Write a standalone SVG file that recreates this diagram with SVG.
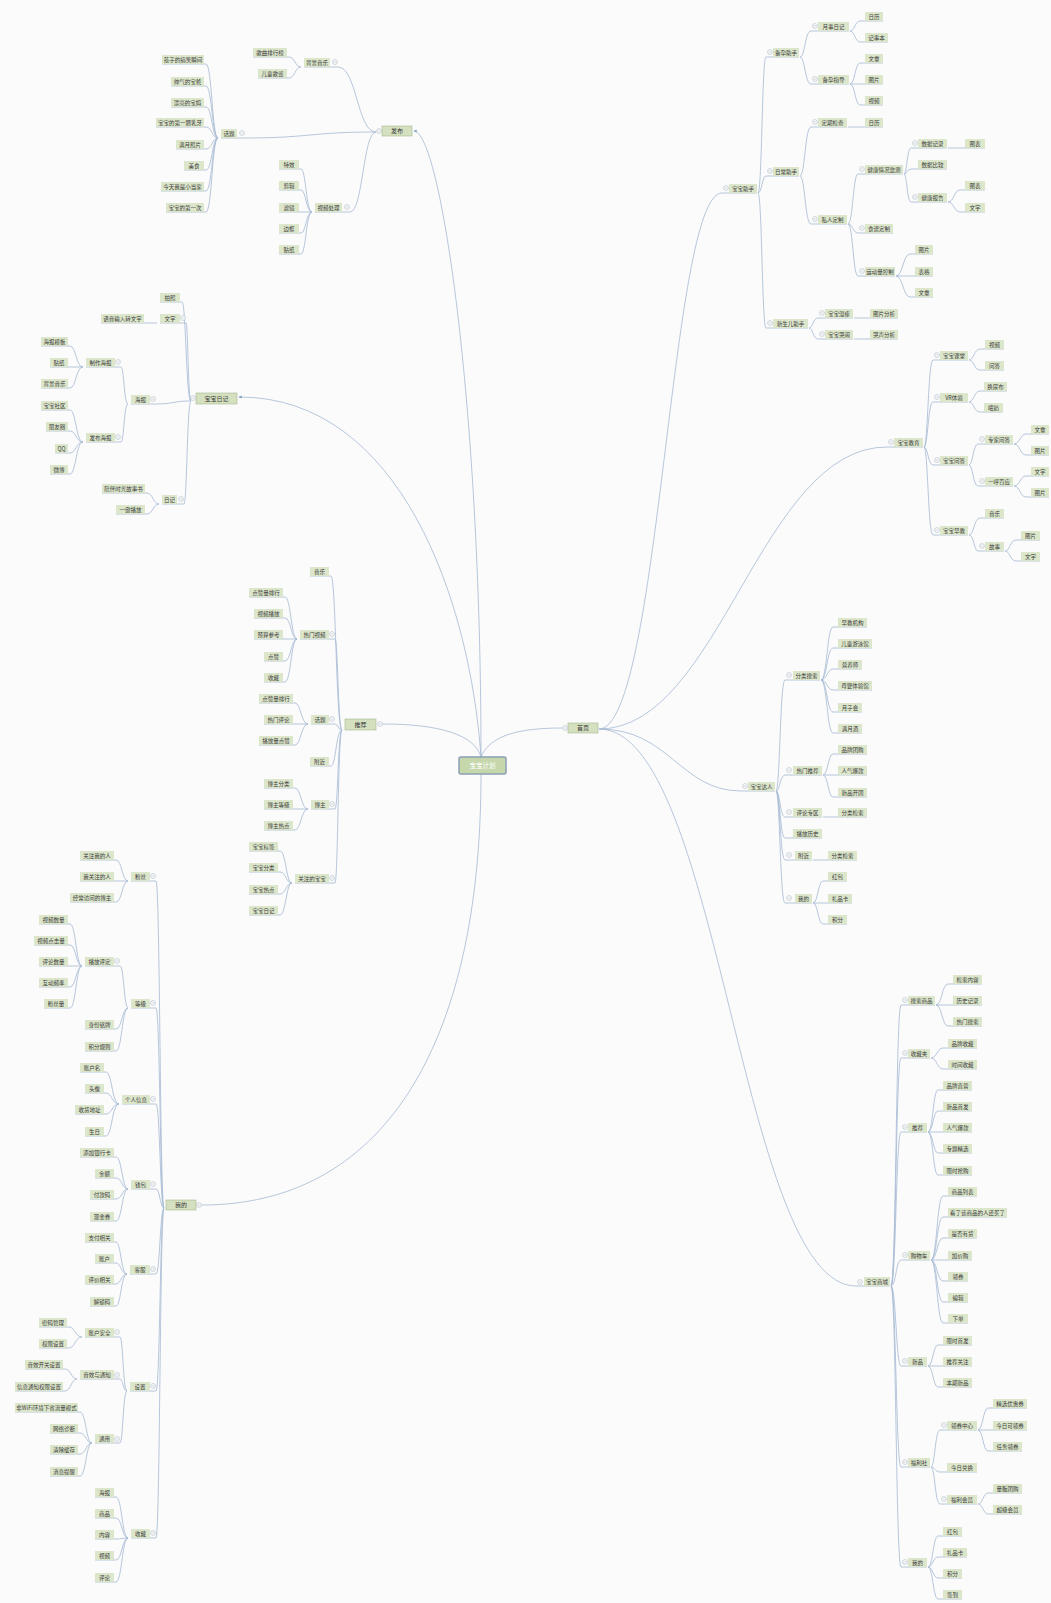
<svg xmlns="http://www.w3.org/2000/svg" width="1051" height="1603" viewBox="0 0 1051 1603">
<style>
.c{fill:none;stroke:#a4b9d3;stroke-width:0.8}
.n rect{fill:#dce6cb}
.n text{font-family:"Noto Sans CJK SC","Noto Sans",sans-serif;font-size:5.5px;fill:#3a3a3a;text-anchor:middle}
.l1 rect{fill:#d4e0bf;stroke:#a9b994;stroke-width:0.6}
.l1 text{font-size:6px}
.ct rect{fill:#c5d7ab;stroke:#8aa0b5;stroke-width:1.5}
.ct text{font-family:"Noto Sans CJK SC","Noto Sans",sans-serif;font-size:6.5px;fill:#fff;text-anchor:middle}
</style>
<defs>
<g id="mc"><circle r="2.4" fill="#fff" stroke="#9aa8b6" stroke-width="0.5"/><path d="M-1.3 0H1.3" stroke="#9aa8b6" stroke-width="0.5"/></g>
<marker id="ah" viewBox="0 0 6 6" refX="5" refY="3" markerWidth="4" markerHeight="4" orient="auto"><path d="M0 0L6 3L0 6z" fill="#7f9ec4"/></marker>
</defs>
<rect width="1051" height="1603" fill="#fbfbfb"/>
<g id="connectors">
<path class="c" d="M481 757C481 400 440 131 414 131" marker-end="url(#ah)"/>
<path class="c" d="M481 757C470 600 400 397 239 397" marker-end="url(#ah)"/>
<path class="c" d="M481 757C475 735 440 724 383 724"/>
<path class="c" d="M481 757C490 735 520 728 562 728"/>
<path class="c" d="M481 774C481 1050 380 1205 202 1205"/>
<path class="c" d="M599 729C660 729 670 193 722 193H757"/>
<path class="c" d="M599 729C720 729 760 447 887 447H923"/>
<path class="c" d="M599 729C670 729 680 791 741 791H775"/>
<path class="c" d="M599 729C720 729 740 1286 856 1286H890"/>
<path class="c" d="M376 132C357 132 357 67 338 67H304"/>
<path class="c" d="M376 132C310 132 310 138 245 138H221"/>
<path class="c" d="M376 132C363 132 363 212 350 212H315"/>
<path class="c" d="M301 67C295 67 295 57 289 57H253"/>
<path class="c" d="M301 67C295 67 295 78 289 78H258"/>
<path class="c" d="M218 138C212 138 212 64 206 64H162"/>
<path class="c" d="M218 138C212 138 212 86 206 86H171"/>
<path class="c" d="M218 138C212 138 212 107 206 107H171"/>
<path class="c" d="M218 138C212 138 212 127 206 127H156"/>
<path class="c" d="M218 138C212 138 212 149 206 149H176"/>
<path class="c" d="M218 138C212 138 212 170 206 170H184"/>
<path class="c" d="M218 138C212 138 212 191 206 191H161"/>
<path class="c" d="M218 138C212 138 212 212 206 212H166"/>
<path class="c" d="M312 212C306 212 306 169 301 169H279"/>
<path class="c" d="M312 212C306 212 306 190 301 190H279"/>
<path class="c" d="M312 212H279"/>
<path class="c" d="M312 212C306 212 306 233 301 233H279"/>
<path class="c" d="M312 212C306 212 306 254 301 254H279"/>
<path class="c" d="M191 401C186 401 186 302 182 302H160"/>
<path class="c" d="M191 401C188 401 188 323 186 323H160"/>
<path class="c" d="M191 401C173 401 173 404 156 404H131"/>
<path class="c" d="M191 401C187 401 187 504 184 504H162"/>
<path class="c" d="M157 323H101"/>
<path class="c" d="M128 404C124 404 124 367 121 367H86"/>
<path class="c" d="M128 404C124 404 124 442 121 442H86"/>
<path class="c" d="M83 367C76 367 76 346 70 346H41"/>
<path class="c" d="M83 367H50"/>
<path class="c" d="M83 367C76 367 76 388 70 388H41"/>
<path class="c" d="M83 442C76 442 76 410 70 410H41"/>
<path class="c" d="M83 442C76 442 76 431 70 431H46"/>
<path class="c" d="M83 442C76 442 76 453 70 453H55"/>
<path class="c" d="M83 442C76 442 76 474 70 474H50"/>
<path class="c" d="M159 504C153 504 153 493 147 493H102"/>
<path class="c" d="M159 504C153 504 153 514 147 514H116"/>
<path class="c" d="M342 730C336 730 336 576 331 576H310"/>
<path class="c" d="M342 730C338 730 338 639 335 639H300"/>
<path class="c" d="M342 730C338 730 338 724 335 724H311"/>
<path class="c" d="M342 730C336 730 336 766 331 766H310"/>
<path class="c" d="M342 730C338 730 338 809 335 809H311"/>
<path class="c" d="M342 730C338 730 338 883 335 883H295"/>
<path class="c" d="M297 639C291 639 291 597 285 597H249"/>
<path class="c" d="M297 639C291 639 291 618 285 618H254"/>
<path class="c" d="M297 639H254"/>
<path class="c" d="M297 639C291 639 291 661 285 661H264"/>
<path class="c" d="M297 639C291 639 291 682 285 682H264"/>
<path class="c" d="M308 724C301 724 301 703 295 703H259"/>
<path class="c" d="M308 724H264"/>
<path class="c" d="M308 724C301 724 301 745 295 745H259"/>
<path class="c" d="M308 809C301 809 301 788 295 788H264"/>
<path class="c" d="M308 809H264"/>
<path class="c" d="M308 809C301 809 301 830 295 830H264"/>
<path class="c" d="M292 883C286 883 286 851 280 851H249"/>
<path class="c" d="M292 883C286 883 286 872 280 872H249"/>
<path class="c" d="M292 883C286 883 286 894 280 894H249"/>
<path class="c" d="M292 883C286 883 286 915 280 915H249"/>
<path class="c" d="M164 1208C160 1208 160 881 156 881H131"/>
<path class="c" d="M164 1208C160 1208 160 1008 156 1008H131"/>
<path class="c" d="M164 1208C160 1208 160 1104 156 1104H122"/>
<path class="c" d="M164 1208C160 1208 160 1189 156 1189H131"/>
<path class="c" d="M164 1208C160 1208 160 1274 156 1274H130"/>
<path class="c" d="M164 1208C160 1208 160 1391 156 1391H130"/>
<path class="c" d="M164 1208C160 1208 160 1538 156 1538H131"/>
<path class="c" d="M128 881C122 881 122 860 116 860H80"/>
<path class="c" d="M128 881H80"/>
<path class="c" d="M128 881C122 881 122 902 116 902H70"/>
<path class="c" d="M128 1008C124 1008 124 966 120 966H85"/>
<path class="c" d="M128 1008C122 1008 122 1029 116 1029H85"/>
<path class="c" d="M128 1008C122 1008 122 1051 116 1051H85"/>
<path class="c" d="M82 966C76 966 76 924 70 924H39"/>
<path class="c" d="M82 966C76 966 76 945 70 945H34"/>
<path class="c" d="M82 966H39"/>
<path class="c" d="M82 966C76 966 76 987 70 987H39"/>
<path class="c" d="M82 966C76 966 76 1008 70 1008H44"/>
<path class="c" d="M119 1104C112 1104 112 1072 106 1072H80"/>
<path class="c" d="M119 1104C112 1104 112 1093 106 1093H85"/>
<path class="c" d="M119 1104C112 1104 112 1114 106 1114H75"/>
<path class="c" d="M119 1104C112 1104 112 1136 106 1136H85"/>
<path class="c" d="M128 1189C122 1189 122 1157 116 1157H80"/>
<path class="c" d="M128 1189C122 1189 122 1178 116 1178H95"/>
<path class="c" d="M128 1189C122 1189 122 1199 116 1199H90"/>
<path class="c" d="M128 1189C122 1189 122 1221 116 1221H90"/>
<path class="c" d="M127 1274C121 1274 121 1242 116 1242H85"/>
<path class="c" d="M127 1274C121 1274 121 1263 116 1263H95"/>
<path class="c" d="M127 1274C121 1274 121 1284 116 1284H85"/>
<path class="c" d="M127 1274C121 1274 121 1306 116 1306H90"/>
<path class="c" d="M127 1391C123 1391 123 1337 120 1337H85"/>
<path class="c" d="M127 1391C123 1391 123 1379 120 1379H80"/>
<path class="c" d="M127 1391C123 1391 123 1443 120 1443H95"/>
<path class="c" d="M82 1337C75 1337 75 1327 69 1327H39"/>
<path class="c" d="M82 1337C75 1337 75 1348 69 1348H39"/>
<path class="c" d="M77 1379C71 1379 71 1369 65 1369H25"/>
<path class="c" d="M77 1379C71 1379 71 1391 65 1391H15"/>
<path class="c" d="M92 1443C86 1443 86 1412 80 1412H15"/>
<path class="c" d="M92 1443C86 1443 86 1433 80 1433H50"/>
<path class="c" d="M92 1443C86 1443 86 1454 80 1454H50"/>
<path class="c" d="M92 1443C86 1443 86 1476 80 1476H50"/>
<path class="c" d="M128 1538C122 1538 122 1497 116 1497H95"/>
<path class="c" d="M128 1538C122 1538 122 1518 116 1518H95"/>
<path class="c" d="M128 1538C122 1538 122 1539 116 1539H95"/>
<path class="c" d="M128 1538C122 1538 122 1560 116 1560H95"/>
<path class="c" d="M128 1538C122 1538 122 1582 116 1582H95"/>
<path class="c" d="M758 193C762 193 762 57 766 57H799"/>
<path class="c" d="M758 193C762 193 762 176 766 176H799"/>
<path class="c" d="M758 193C762 193 762 328 766 328H808"/>
<path class="c" d="M800 57C805 57 805 31 811 31H849"/>
<path class="c" d="M800 57C805 57 805 84 811 84H849"/>
<path class="c" d="M850 31C855 31 855 21 860 21H883"/>
<path class="c" d="M850 31C855 31 855 42 860 42H888"/>
<path class="c" d="M850 84C855 84 855 63 860 63H883"/>
<path class="c" d="M850 84H883"/>
<path class="c" d="M850 84C855 84 855 105 860 105H883"/>
<path class="c" d="M800 176C805 176 805 127 811 127H847"/>
<path class="c" d="M800 176C805 176 805 224 811 224H847"/>
<path class="c" d="M848 127H883"/>
<path class="c" d="M848 224C853 224 853 174 858 174H903"/>
<path class="c" d="M848 224C853 224 853 233 858 233H893"/>
<path class="c" d="M848 224C853 224 853 276 858 276H895"/>
<path class="c" d="M904 174C907 174 907 148 911 148H947"/>
<path class="c" d="M904 174C907 174 907 169 911 169H947"/>
<path class="c" d="M904 174C907 174 907 202 911 202H947"/>
<path class="c" d="M948 148H985"/>
<path class="c" d="M948 202C954 202 954 190 960 190H985"/>
<path class="c" d="M948 202C954 202 954 212 960 212H985"/>
<path class="c" d="M896 276C903 276 903 254 910 254H933"/>
<path class="c" d="M896 276H933"/>
<path class="c" d="M896 276C903 276 903 297 910 297H933"/>
<path class="c" d="M809 328C813 328 813 318 818 318H853"/>
<path class="c" d="M809 328C813 328 813 339 818 339H853"/>
<path class="c" d="M854 318H898"/>
<path class="c" d="M854 339H898"/>
<path class="c" d="M924 447C928 447 928 360 933 360H968"/>
<path class="c" d="M924 447C928 447 928 402 933 402H968"/>
<path class="c" d="M924 447C928 447 928 465 933 465H968"/>
<path class="c" d="M924 447C928 447 928 535 933 535H968"/>
<path class="c" d="M969 360C974 360 974 349 980 349H1004"/>
<path class="c" d="M969 360C974 360 974 370 980 370H1004"/>
<path class="c" d="M969 402C974 402 974 391 980 391H1007"/>
<path class="c" d="M969 402C974 402 974 412 980 412H1003"/>
<path class="c" d="M969 465C973 465 973 444 978 444H1013"/>
<path class="c" d="M969 465C973 465 973 486 978 486H1013"/>
<path class="c" d="M1014 444C1020 444 1020 434 1026 434H1049"/>
<path class="c" d="M1014 444C1020 444 1020 455 1026 455H1049"/>
<path class="c" d="M1014 486C1020 486 1020 476 1026 476H1049"/>
<path class="c" d="M1014 486C1020 486 1020 497 1026 497H1049"/>
<path class="c" d="M969 535C974 535 974 518 980 518H1004"/>
<path class="c" d="M969 535C974 535 974 551 978 551H1004"/>
<path class="c" d="M1005 551C1010 551 1010 540 1016 540H1040"/>
<path class="c" d="M1005 551C1010 551 1010 561 1016 561H1040"/>
<path class="c" d="M776 791C780 791 780 680 785 680H820"/>
<path class="c" d="M776 791C780 791 780 775 785 775H822"/>
<path class="c" d="M776 791C780 791 780 817 785 817H822"/>
<path class="c" d="M776 791C780 791 780 838 785 838H822"/>
<path class="c" d="M776 791C780 791 780 860 785 860H812"/>
<path class="c" d="M776 791C780 791 780 903 785 903H812"/>
<path class="c" d="M821 680C827 680 827 627 833 627H867"/>
<path class="c" d="M821 680C827 680 827 648 833 648H872"/>
<path class="c" d="M821 680C827 680 827 669 833 669H862"/>
<path class="c" d="M821 680C827 680 827 690 833 690H872"/>
<path class="c" d="M821 680C827 680 827 712 833 712H862"/>
<path class="c" d="M821 680C827 680 827 733 833 733H862"/>
<path class="c" d="M823 775C828 775 828 754 833 754H867"/>
<path class="c" d="M823 775H867"/>
<path class="c" d="M823 775C828 775 828 797 833 797H867"/>
<path class="c" d="M823 817H867"/>
<path class="c" d="M813 860H857"/>
<path class="c" d="M813 903C818 903 818 881 823 881H847"/>
<path class="c" d="M813 903H852"/>
<path class="c" d="M813 903C818 903 818 924 823 924H847"/>
<path class="c" d="M891 1286C896 1286 896 1005 901 1005H935"/>
<path class="c" d="M891 1286C896 1286 896 1058 901 1058H930"/>
<path class="c" d="M891 1286C896 1286 896 1132 901 1132H927"/>
<path class="c" d="M891 1286C896 1286 896 1260 901 1260H930"/>
<path class="c" d="M891 1286C896 1286 896 1366 901 1366H927"/>
<path class="c" d="M891 1286C896 1286 896 1467 901 1467H930"/>
<path class="c" d="M891 1286C896 1286 896 1567 901 1567H927"/>
<path class="c" d="M936 1005C942 1005 942 984 948 984H982"/>
<path class="c" d="M936 1005H982"/>
<path class="c" d="M936 1005C942 1005 942 1026 948 1026H982"/>
<path class="c" d="M931 1058C937 1058 937 1048 943 1048H977"/>
<path class="c" d="M931 1058C937 1058 937 1069 943 1069H977"/>
<path class="c" d="M928 1132C933 1132 933 1090 938 1090H972"/>
<path class="c" d="M928 1132C933 1132 933 1111 938 1111H972"/>
<path class="c" d="M928 1132H972"/>
<path class="c" d="M928 1132C933 1132 933 1153 938 1153H972"/>
<path class="c" d="M928 1132C933 1132 933 1175 938 1175H972"/>
<path class="c" d="M931 1260C937 1260 937 1196 943 1196H977"/>
<path class="c" d="M931 1260C937 1260 937 1217 943 1217H1007"/>
<path class="c" d="M931 1260C937 1260 937 1238 943 1238H977"/>
<path class="c" d="M931 1260H972"/>
<path class="c" d="M931 1260C937 1260 937 1281 943 1281H968"/>
<path class="c" d="M931 1260C937 1260 937 1302 943 1302H968"/>
<path class="c" d="M931 1260C937 1260 937 1323 943 1323H968"/>
<path class="c" d="M928 1366C933 1366 933 1345 938 1345H972"/>
<path class="c" d="M928 1366H972"/>
<path class="c" d="M928 1366C933 1366 933 1387 938 1387H972"/>
<path class="c" d="M931 1467C935 1467 935 1430 940 1430H977"/>
<path class="c" d="M931 1467C935 1467 935 1472 940 1472H977"/>
<path class="c" d="M931 1467C935 1467 935 1504 940 1504H977"/>
<path class="c" d="M978 1430C983 1430 983 1408 988 1408H1027"/>
<path class="c" d="M978 1430H1027"/>
<path class="c" d="M978 1430C983 1430 983 1451 988 1451H1022"/>
<path class="c" d="M978 1504C983 1504 983 1493 988 1493H1022"/>
<path class="c" d="M978 1504C983 1504 983 1514 988 1514H1022"/>
<path class="c" d="M928 1567C933 1567 933 1536 938 1536H962"/>
<path class="c" d="M928 1567C933 1567 933 1557 938 1557H967"/>
<path class="c" d="M928 1567C933 1567 933 1578 938 1578H962"/>
<path class="c" d="M928 1567C933 1567 933 1599 938 1599H962"/>
</g>
<g id="nodes">
<g id="root" class="ct"><rect x="459" y="757" width="47" height="17" rx="2"/><text x="482.5" y="768">宝宝计划</text></g>
<g id="n-fabu" class="n l1"><rect x="382" y="126" width="30" height="10"/><text x="397" y="133.2">发布</text></g>
<g id="n-bjyy" class="n"><rect x="304" y="58" width="26" height="9"/><text x="317" y="64.6">背景音乐</text></g>
<g id="n-gqphb" class="n"><rect x="253" y="48" width="34" height="9"/><text x="270" y="54.6">歌曲排行榜</text></g>
<g id="n-etgy" class="n"><rect x="258" y="69" width="29" height="9"/><text x="272.5" y="75.6">儿童歌谣</text></g>
<g id="n-ht1" class="n"><rect x="221" y="129" width="16" height="9"/><text x="229" y="135.6">话题</text></g>
<g id="n-ht1a" class="n"><rect x="162" y="55" width="42" height="9"/><text x="183" y="61.6">孩子的搞笑瞬间</text></g>
<g id="n-ht1b" class="n"><rect x="171" y="77" width="33" height="9"/><text x="187.5" y="83.6">帅气的宝爸</text></g>
<g id="n-ht1c" class="n"><rect x="171" y="98" width="33" height="9"/><text x="187.5" y="104.6">漂亮的宝妈</text></g>
<g id="n-ht1d" class="n"><rect x="156" y="118" width="48" height="9"/><text x="180" y="124.6">宝宝的第一颗乳牙</text></g>
<g id="n-ht1e" class="n"><rect x="176" y="140" width="28" height="9"/><text x="190" y="146.6">满月照片</text></g>
<g id="n-ht1f" class="n"><rect x="184" y="161" width="20" height="9"/><text x="194" y="167.6">美食</text></g>
<g id="n-ht1g" class="n"><rect x="161" y="182" width="43" height="9"/><text x="182.5" y="188.6">今天我是小当家</text></g>
<g id="n-ht1h" class="n"><rect x="166" y="203" width="38" height="9"/><text x="185" y="209.6">宝宝的第一次</text></g>
<g id="n-spcl" class="n"><rect x="315" y="203" width="27" height="9"/><text x="328.5" y="209.6">视频处理</text></g>
<g id="n-tx" class="n"><rect x="279" y="160" width="20" height="9"/><text x="289" y="166.6">特效</text></g>
<g id="n-jj" class="n"><rect x="279" y="181" width="20" height="9"/><text x="289" y="187.6">剪辑</text></g>
<g id="n-lj" class="n"><rect x="279" y="203" width="20" height="9"/><text x="289" y="209.6">滤镜</text></g>
<g id="n-bk" class="n"><rect x="279" y="224" width="20" height="9"/><text x="289" y="230.6">边框</text></g>
<g id="n-tz" class="n"><rect x="279" y="245" width="20" height="9"/><text x="289" y="251.6">贴纸</text></g>
<g id="n-bbrj" class="n l1"><rect x="196" y="393" width="41" height="11"/><text x="216.5" y="400.6">宝宝日记</text></g>
<g id="n-pz" class="n"><rect x="160" y="293" width="20" height="9"/><text x="170" y="299.6">拍照</text></g>
<g id="n-wz" class="n"><rect x="160" y="314" width="20" height="9"/><text x="170" y="320.6">文字</text></g>
<g id="n-yysr" class="n"><rect x="101" y="314" width="43" height="9"/><text x="122.5" y="320.6">语音输入转文字</text></g>
<g id="n-hb" class="n"><rect x="131" y="395" width="19" height="9"/><text x="140.5" y="401.6">海报</text></g>
<g id="n-zzhb" class="n"><rect x="86" y="358" width="29" height="9"/><text x="100.5" y="364.6">制作海报</text></g>
<g id="n-hbmb" class="n"><rect x="41" y="337" width="27" height="9"/><text x="54.5" y="343.6">海报模板</text></g>
<g id="n-tz2" class="n"><rect x="50" y="358" width="18" height="9"/><text x="59" y="364.6">贴纸</text></g>
<g id="n-bjyy2" class="n"><rect x="41" y="379" width="27" height="9"/><text x="54.5" y="385.6">背景音乐</text></g>
<g id="n-fbhb" class="n"><rect x="86" y="433" width="29" height="9"/><text x="100.5" y="439.6">发布海报</text></g>
<g id="n-bbsq" class="n"><rect x="41" y="401" width="27" height="9"/><text x="54.5" y="407.6">宝宝社区</text></g>
<g id="n-pyq" class="n"><rect x="46" y="422" width="22" height="9"/><text x="57" y="428.6">朋友圈</text></g>
<g id="n-qq" class="n"><rect x="55" y="444" width="13" height="9"/><text x="61.5" y="450.6">QQ</text></g>
<g id="n-wb" class="n"><rect x="50" y="465" width="18" height="9"/><text x="59" y="471.6">微博</text></g>
<g id="n-rj" class="n"><rect x="162" y="495" width="15" height="9"/><text x="169.5" y="501.6">日记</text></g>
<g id="n-pbsg" class="n"><rect x="102" y="484" width="43" height="9"/><text x="123.5" y="490.6">陪伴时光故事书</text></g>
<g id="n-yjbf" class="n"><rect x="116" y="505" width="29" height="9"/><text x="130.5" y="511.6">一键播放</text></g>
<g id="n-tj" class="n l1"><rect x="345" y="719" width="31" height="11"/><text x="360.5" y="726.6">推荐</text></g>
<g id="n-yy" class="n"><rect x="310" y="567" width="19" height="9"/><text x="319.5" y="573.6">音乐</text></g>
<g id="n-rmsp" class="n"><rect x="300" y="630" width="29" height="9"/><text x="314.5" y="636.6">热门视频</text></g>
<g id="n-dzl1" class="n"><rect x="249" y="588" width="34" height="9"/><text x="266" y="594.6">点赞量排行</text></g>
<g id="n-spbf" class="n"><rect x="254" y="609" width="29" height="9"/><text x="268.5" y="615.6">视频播放</text></g>
<g id="n-ysck" class="n"><rect x="254" y="630" width="29" height="9"/><text x="268.5" y="636.6">预算参考</text></g>
<g id="n-dz" class="n"><rect x="264" y="652" width="19" height="9"/><text x="273.5" y="658.6">点赞</text></g>
<g id="n-sc" class="n"><rect x="264" y="673" width="19" height="9"/><text x="273.5" y="679.6">收藏</text></g>
<g id="n-ht2" class="n"><rect x="311" y="715" width="18" height="9"/><text x="320" y="721.6">话题</text></g>
<g id="n-dzl2" class="n"><rect x="259" y="694" width="34" height="9"/><text x="276" y="700.6">点赞量排行</text></g>
<g id="n-rmpl" class="n"><rect x="264" y="715" width="29" height="9"/><text x="278.5" y="721.6">热门评论</text></g>
<g id="n-bfl" class="n"><rect x="259" y="736" width="34" height="9"/><text x="276" y="742.6">播放量点赞</text></g>
<g id="n-fj" class="n"><rect x="310" y="757" width="19" height="9"/><text x="319.5" y="763.6">附近</text></g>
<g id="n-bz" class="n"><rect x="311" y="800" width="18" height="9"/><text x="320" y="806.6">博主</text></g>
<g id="n-bzfl" class="n"><rect x="264" y="779" width="29" height="9"/><text x="278.5" y="785.6">博主分类</text></g>
<g id="n-bzdj" class="n"><rect x="264" y="800" width="29" height="9"/><text x="278.5" y="806.6">博主等级</text></g>
<g id="n-bzrd" class="n"><rect x="264" y="821" width="29" height="9"/><text x="278.5" y="827.6">博主热点</text></g>
<g id="n-gzbb" class="n"><rect x="295" y="874" width="34" height="9"/><text x="312" y="880.6">关注的宝宝</text></g>
<g id="n-bbbq" class="n"><rect x="249" y="842" width="29" height="9"/><text x="263.5" y="848.6">宝宝标签</text></g>
<g id="n-bbfl" class="n"><rect x="249" y="863" width="29" height="9"/><text x="263.5" y="869.6">宝宝分类</text></g>
<g id="n-bbrd" class="n"><rect x="249" y="885" width="29" height="9"/><text x="263.5" y="891.6">宝宝热点</text></g>
<g id="n-bbrj2" class="n"><rect x="249" y="906" width="29" height="9"/><text x="263.5" y="912.6">宝宝日记</text></g>
<g id="n-wd" class="n l1"><rect x="166" y="1200" width="30" height="10"/><text x="181" y="1207.2">我的</text></g>
<g id="n-fs" class="n"><rect x="131" y="872" width="19" height="9"/><text x="140.5" y="878.6">粉丝</text></g>
<g id="n-gzwd" class="n"><rect x="80" y="851" width="34" height="9"/><text x="97" y="857.6">关注我的人</text></g>
<g id="n-wgzd" class="n"><rect x="80" y="872" width="34" height="9"/><text x="97" y="878.6">我关注的人</text></g>
<g id="n-jcfw" class="n"><rect x="70" y="893" width="44" height="9"/><text x="92" y="899.6">经常访问的博主</text></g>
<g id="n-dj" class="n"><rect x="131" y="999" width="19" height="9"/><text x="140.5" y="1005.6">等级</text></g>
<g id="n-bfpd" class="n"><rect x="85" y="957" width="29" height="9"/><text x="99.5" y="963.6">播放评定</text></g>
<g id="n-spsl" class="n"><rect x="39" y="915" width="29" height="9"/><text x="53.5" y="921.6">视频数量</text></g>
<g id="n-spdj" class="n"><rect x="34" y="936" width="34" height="9"/><text x="51" y="942.6">视频点击量</text></g>
<g id="n-plsl" class="n"><rect x="39" y="957" width="29" height="9"/><text x="53.5" y="963.6">评论数量</text></g>
<g id="n-hdpl" class="n"><rect x="39" y="978" width="29" height="9"/><text x="53.5" y="984.6">互动频率</text></g>
<g id="n-fsl" class="n"><rect x="44" y="999" width="24" height="9"/><text x="56" y="1005.6">粉丝量</text></g>
<g id="n-sfmp" class="n"><rect x="85" y="1020" width="29" height="9"/><text x="99.5" y="1026.6">身份铭牌</text></g>
<g id="n-jfgz" class="n"><rect x="85" y="1042" width="29" height="9"/><text x="99.5" y="1048.6">积分规则</text></g>
<g id="n-grxx" class="n"><rect x="122" y="1095" width="28" height="9"/><text x="136" y="1101.6">个人信息</text></g>
<g id="n-zhm" class="n"><rect x="80" y="1063" width="24" height="9"/><text x="92" y="1069.6">账户名</text></g>
<g id="n-tx2" class="n"><rect x="85" y="1084" width="19" height="9"/><text x="94.5" y="1090.6">头像</text></g>
<g id="n-shdz" class="n"><rect x="75" y="1105" width="29" height="9"/><text x="89.5" y="1111.6">收货地址</text></g>
<g id="n-sr" class="n"><rect x="85" y="1127" width="19" height="9"/><text x="94.5" y="1133.6">生日</text></g>
<g id="n-qb" class="n"><rect x="131" y="1180" width="19" height="9"/><text x="140.5" y="1186.6">钱包</text></g>
<g id="n-tjyhk" class="n"><rect x="80" y="1148" width="34" height="9"/><text x="97" y="1154.6">添加银行卡</text></g>
<g id="n-ye" class="n"><rect x="95" y="1169" width="19" height="9"/><text x="104.5" y="1175.6">余额</text></g>
<g id="n-fkm" class="n"><rect x="90" y="1190" width="24" height="9"/><text x="102" y="1196.6">付款码</text></g>
<g id="n-xjq" class="n"><rect x="90" y="1212" width="24" height="9"/><text x="102" y="1218.6">现金券</text></g>
<g id="n-kf" class="n"><rect x="130" y="1265" width="20" height="9"/><text x="140" y="1271.6">客服</text></g>
<g id="n-zfxg" class="n"><rect x="85" y="1233" width="29" height="9"/><text x="99.5" y="1239.6">支付相关</text></g>
<g id="n-zh" class="n"><rect x="95" y="1254" width="19" height="9"/><text x="104.5" y="1260.6">账户</text></g>
<g id="n-pjxg" class="n"><rect x="85" y="1275" width="29" height="9"/><text x="99.5" y="1281.6">评价相关</text></g>
<g id="n-jsm" class="n"><rect x="90" y="1297" width="24" height="9"/><text x="102" y="1303.6">解锁码</text></g>
<g id="n-sz" class="n"><rect x="130" y="1382" width="20" height="9"/><text x="140" y="1388.6">设置</text></g>
<g id="n-zhaq" class="n"><rect x="85" y="1328" width="29" height="9"/><text x="99.5" y="1334.6">账户安全</text></g>
<g id="n-mmgl" class="n"><rect x="39" y="1318" width="28" height="9"/><text x="53" y="1324.6">密码管理</text></g>
<g id="n-qxsz" class="n"><rect x="39" y="1339" width="28" height="9"/><text x="53" y="1345.6">权限设置</text></g>
<g id="n-yxtz" class="n"><rect x="80" y="1370" width="34" height="9"/><text x="97" y="1376.6">音效与通知</text></g>
<g id="n-yxkg" class="n"><rect x="25" y="1360" width="38" height="9"/><text x="44" y="1366.6">音效开关设置</text></g>
<g id="n-xxtz" class="n"><rect x="15" y="1382" width="48" height="9"/><text x="39" y="1388.6">信息通知权限设置</text></g>
<g id="n-ty" class="n"><rect x="95" y="1434" width="19" height="9"/><text x="104.5" y="1440.6">通用</text></g>
<g id="n-wifi" class="n"><rect x="15" y="1403" width="63" height="9"/><text x="46.5" y="1409.6">非WiFi环境下省流量模式</text></g>
<g id="n-wlzd" class="n"><rect x="50" y="1424" width="28" height="9"/><text x="64" y="1430.6">网络诊断</text></g>
<g id="n-qchc" class="n"><rect x="50" y="1445" width="28" height="9"/><text x="64" y="1451.6">清除缓存</text></g>
<g id="n-xxtx" class="n"><rect x="50" y="1467" width="28" height="9"/><text x="64" y="1473.6">消息提醒</text></g>
<g id="n-sc2" class="n"><rect x="131" y="1529" width="19" height="9"/><text x="140.5" y="1535.6">收藏</text></g>
<g id="n-hb2" class="n"><rect x="95" y="1488" width="19" height="9"/><text x="104.5" y="1494.6">海报</text></g>
<g id="n-sp2" class="n"><rect x="95" y="1509" width="19" height="9"/><text x="104.5" y="1515.6">商品</text></g>
<g id="n-nr" class="n"><rect x="95" y="1530" width="19" height="9"/><text x="104.5" y="1536.6">内容</text></g>
<g id="n-sp3" class="n"><rect x="95" y="1551" width="19" height="9"/><text x="104.5" y="1557.6">视频</text></g>
<g id="n-pl" class="n"><rect x="95" y="1573" width="19" height="9"/><text x="104.5" y="1579.6">评论</text></g>
<g id="n-sy" class="n l1"><rect x="568" y="723" width="30" height="10"/><text x="583" y="730.2">首页</text></g>
<g id="n-bbzs" class="n"><rect x="729" y="184" width="28" height="9"/><text x="743" y="190.6">宝宝助手</text></g>
<g id="n-byzs" class="n"><rect x="773" y="48" width="26" height="9"/><text x="786" y="54.6">备孕助手</text></g>
<g id="n-ysrj" class="n"><rect x="818" y="22" width="31" height="9"/><text x="833.5" y="28.6">月事日记</text></g>
<g id="n-rl1" class="n"><rect x="865" y="12" width="18" height="9"/><text x="874" y="18.6">日历</text></g>
<g id="n-jsb" class="n"><rect x="865" y="33" width="23" height="9"/><text x="876.5" y="39.6">记事本</text></g>
<g id="n-byzd" class="n"><rect x="818" y="75" width="31" height="9"/><text x="833.5" y="81.6">备孕指导</text></g>
<g id="n-wz1" class="n"><rect x="865" y="54" width="18" height="9"/><text x="874" y="60.6">文章</text></g>
<g id="n-tp1" class="n"><rect x="865" y="75" width="18" height="9"/><text x="874" y="81.6">图片</text></g>
<g id="n-sp1" class="n"><rect x="865" y="96" width="18" height="9"/><text x="874" y="102.6">视频</text></g>
<g id="n-rczs" class="n"><rect x="773" y="167" width="26" height="9"/><text x="786" y="173.6">日常助手</text></g>
<g id="n-dqjc" class="n"><rect x="818" y="118" width="29" height="9"/><text x="832.5" y="124.6">定期检查</text></g>
<g id="n-rl2" class="n"><rect x="865" y="118" width="18" height="9"/><text x="874" y="124.6">日历</text></g>
<g id="n-srdz" class="n"><rect x="818" y="215" width="29" height="9"/><text x="832.5" y="221.6">私人定制</text></g>
<g id="n-jkqk" class="n"><rect x="865" y="165" width="38" height="9"/><text x="884" y="171.6">健康情况监测</text></g>
<g id="n-sjjl" class="n"><rect x="918" y="139" width="29" height="9"/><text x="932.5" y="145.6">数据记录</text></g>
<g id="n-tb1" class="n"><rect x="965" y="139" width="20" height="9"/><text x="975" y="145.6">图表</text></g>
<g id="n-sjbj" class="n"><rect x="918" y="160" width="29" height="9"/><text x="932.5" y="166.6">数据比较</text></g>
<g id="n-jkbg" class="n"><rect x="918" y="193" width="29" height="9"/><text x="932.5" y="199.6">健康报告</text></g>
<g id="n-tb2" class="n"><rect x="965" y="181" width="20" height="9"/><text x="975" y="187.6">图表</text></g>
<g id="n-wz2" class="n"><rect x="965" y="203" width="20" height="9"/><text x="975" y="209.6">文字</text></g>
<g id="n-spdz" class="n"><rect x="865" y="224" width="28" height="9"/><text x="879" y="230.6">食谱定制</text></g>
<g id="n-ydl" class="n"><rect x="865" y="267" width="30" height="9"/><text x="880" y="273.6">运动量控制</text></g>
<g id="n-tp2" class="n"><rect x="915" y="245" width="18" height="9"/><text x="924" y="251.6">图片</text></g>
<g id="n-bg" class="n"><rect x="915" y="267" width="18" height="9"/><text x="924" y="273.6">表格</text></g>
<g id="n-wz3" class="n"><rect x="915" y="288" width="18" height="9"/><text x="924" y="294.6">文章</text></g>
<g id="n-xsezs" class="n"><rect x="773" y="319" width="35" height="9"/><text x="790.5" y="325.6">新生儿助手</text></g>
<g id="n-bbsz" class="n"><rect x="825" y="309" width="28" height="9"/><text x="839" y="315.6">宝宝湿疹</text></g>
<g id="n-tpfx" class="n"><rect x="870" y="309" width="28" height="9"/><text x="884" y="315.6">图片分析</text></g>
<g id="n-bbkn" class="n"><rect x="825" y="330" width="28" height="9"/><text x="839" y="336.6">宝宝哭闹</text></g>
<g id="n-ksfx" class="n"><rect x="870" y="330" width="28" height="9"/><text x="884" y="336.6">哭声分析</text></g>
<g id="n-bbjy" class="n"><rect x="894" y="438" width="29" height="9"/><text x="908.5" y="444.6">宝宝教育</text></g>
<g id="n-bbkt" class="n"><rect x="940" y="351" width="28" height="9"/><text x="954" y="357.6">宝宝课堂</text></g>
<g id="n-sp4" class="n"><rect x="985" y="340" width="19" height="9"/><text x="994.5" y="346.6">视频</text></g>
<g id="n-wd2" class="n"><rect x="985" y="361" width="19" height="9"/><text x="994.5" y="367.6">问答</text></g>
<g id="n-vr" class="n"><rect x="940" y="393" width="28" height="9"/><text x="954" y="399.6">VR体验</text></g>
<g id="n-hnb" class="n"><rect x="984" y="382" width="23" height="9"/><text x="995.5" y="388.6">换尿布</text></g>
<g id="n-wn" class="n"><rect x="984" y="403" width="19" height="9"/><text x="993.5" y="409.6">喂奶</text></g>
<g id="n-bbwd" class="n"><rect x="940" y="456" width="28" height="9"/><text x="954" y="462.6">宝宝问答</text></g>
<g id="n-zjwd" class="n"><rect x="985" y="435" width="28" height="9"/><text x="999" y="441.6">专家问答</text></g>
<g id="n-wz4" class="n"><rect x="1031" y="425" width="18" height="9"/><text x="1040" y="431.6">文章</text></g>
<g id="n-tp3" class="n"><rect x="1031" y="446" width="18" height="9"/><text x="1040" y="452.6">图片</text></g>
<g id="n-yhby" class="n"><rect x="985" y="477" width="28" height="9"/><text x="999" y="483.6">一呼百应</text></g>
<g id="n-wz5" class="n"><rect x="1031" y="467" width="18" height="9"/><text x="1040" y="473.6">文字</text></g>
<g id="n-tp4" class="n"><rect x="1031" y="488" width="18" height="9"/><text x="1040" y="494.6">图片</text></g>
<g id="n-bbzj" class="n"><rect x="940" y="526" width="28" height="9"/><text x="954" y="532.6">宝宝早教</text></g>
<g id="n-yy2" class="n"><rect x="985" y="509" width="19" height="9"/><text x="994.5" y="515.6">音乐</text></g>
<g id="n-gs" class="n"><rect x="985" y="542" width="19" height="9"/><text x="994.5" y="548.6">故事</text></g>
<g id="n-tp5" class="n"><rect x="1021" y="531" width="19" height="9"/><text x="1030.5" y="537.6">图片</text></g>
<g id="n-wz6" class="n"><rect x="1021" y="552" width="19" height="9"/><text x="1030.5" y="558.6">文字</text></g>
<g id="n-bbdr" class="n"><rect x="748" y="782" width="27" height="9"/><text x="761.5" y="788.6">宝宝达人</text></g>
<g id="n-flss" class="n"><rect x="793" y="671" width="27" height="9"/><text x="806.5" y="677.6">分类搜索</text></g>
<g id="n-zjjg" class="n"><rect x="838" y="618" width="29" height="9"/><text x="852.5" y="624.6">早教机构</text></g>
<g id="n-etyyg" class="n"><rect x="838" y="639" width="34" height="9"/><text x="855" y="645.6">儿童游泳馆</text></g>
<g id="n-yys" class="n"><rect x="838" y="660" width="24" height="9"/><text x="850" y="666.6">营养师</text></g>
<g id="n-mytyg" class="n"><rect x="838" y="681" width="34" height="9"/><text x="855" y="687.6">母婴体验馆</text></g>
<g id="n-yzh" class="n"><rect x="838" y="703" width="24" height="9"/><text x="850" y="709.6">月子会</text></g>
<g id="n-myj" class="n"><rect x="838" y="724" width="24" height="9"/><text x="850" y="730.6">满月酒</text></g>
<g id="n-rmtj" class="n"><rect x="793" y="766" width="29" height="9"/><text x="807.5" y="772.6">热门推荐</text></g>
<g id="n-pptg" class="n"><rect x="838" y="745" width="29" height="9"/><text x="852.5" y="751.6">品牌团购</text></g>
<g id="n-rqbk1" class="n"><rect x="838" y="766" width="29" height="9"/><text x="852.5" y="772.6">人气爆款</text></g>
<g id="n-xpkt" class="n"><rect x="838" y="788" width="29" height="9"/><text x="852.5" y="794.6">新品开团</text></g>
<g id="n-plzq" class="n"><rect x="793" y="808" width="29" height="9"/><text x="807.5" y="814.6">评论专区</text></g>
<g id="n-fljs1" class="n"><rect x="838" y="808" width="29" height="9"/><text x="852.5" y="814.6">分类检索</text></g>
<g id="n-bfls" class="n"><rect x="793" y="829" width="29" height="9"/><text x="807.5" y="835.6">播放历史</text></g>
<g id="n-fj2" class="n"><rect x="795" y="851" width="17" height="9"/><text x="803.5" y="857.6">附近</text></g>
<g id="n-fljs2" class="n"><rect x="828" y="851" width="29" height="9"/><text x="842.5" y="857.6">分类检索</text></g>
<g id="n-wd3" class="n"><rect x="795" y="894" width="17" height="9"/><text x="803.5" y="900.6">我的</text></g>
<g id="n-hb3" class="n"><rect x="828" y="872" width="19" height="9"/><text x="837.5" y="878.6">红包</text></g>
<g id="n-lpk1" class="n"><rect x="828" y="894" width="24" height="9"/><text x="840" y="900.6">礼品卡</text></g>
<g id="n-jf1" class="n"><rect x="828" y="915" width="19" height="9"/><text x="837.5" y="921.6">积分</text></g>
<g id="n-bbsc" class="n"><rect x="864" y="1277" width="26" height="9"/><text x="877" y="1283.6">宝宝商城</text></g>
<g id="n-sssp" class="n"><rect x="908" y="996" width="27" height="9"/><text x="921.5" y="1002.6">搜索商品</text></g>
<g id="n-jsnr" class="n"><rect x="953" y="975" width="29" height="9"/><text x="967.5" y="981.6">检索内容</text></g>
<g id="n-lsjl" class="n"><rect x="953" y="996" width="29" height="9"/><text x="967.5" y="1002.6">历史记录</text></g>
<g id="n-rmss" class="n"><rect x="953" y="1017" width="29" height="9"/><text x="967.5" y="1023.6">热门搜索</text></g>
<g id="n-scj" class="n"><rect x="908" y="1049" width="22" height="9"/><text x="919" y="1055.6">收藏夹</text></g>
<g id="n-ppsc" class="n"><rect x="948" y="1039" width="29" height="9"/><text x="962.5" y="1045.6">品牌收藏</text></g>
<g id="n-sjsc" class="n"><rect x="948" y="1060" width="29" height="9"/><text x="962.5" y="1066.6">时间收藏</text></g>
<g id="n-tj2" class="n"><rect x="908" y="1123" width="19" height="9"/><text x="917.5" y="1129.6">推荐</text></g>
<g id="n-ppzy" class="n"><rect x="943" y="1081" width="29" height="9"/><text x="957.5" y="1087.6">品牌直营</text></g>
<g id="n-xpsf" class="n"><rect x="943" y="1102" width="29" height="9"/><text x="957.5" y="1108.6">新品首发</text></g>
<g id="n-rqbk2" class="n"><rect x="943" y="1123" width="29" height="9"/><text x="957.5" y="1129.6">人气爆款</text></g>
<g id="n-ztjx" class="n"><rect x="943" y="1144" width="29" height="9"/><text x="957.5" y="1150.6">专题精选</text></g>
<g id="n-xsqg" class="n"><rect x="943" y="1166" width="29" height="9"/><text x="957.5" y="1172.6">限时抢购</text></g>
<g id="n-gwc" class="n"><rect x="908" y="1251" width="22" height="9"/><text x="919" y="1257.6">购物车</text></g>
<g id="n-splb" class="n"><rect x="948" y="1187" width="29" height="9"/><text x="962.5" y="1193.6">商品列表</text></g>
<g id="n-klgsp" class="n"><rect x="948" y="1208" width="59" height="9"/><text x="977.5" y="1214.6">看了该商品的人还买了</text></g>
<g id="n-sfyh" class="n"><rect x="948" y="1229" width="29" height="9"/><text x="962.5" y="1235.6">是否有货</text></g>
<g id="n-jjg" class="n"><rect x="948" y="1251" width="24" height="9"/><text x="960" y="1257.6">加价购</text></g>
<g id="n-lq" class="n"><rect x="948" y="1272" width="20" height="9"/><text x="958" y="1278.6">领券</text></g>
<g id="n-bj" class="n"><rect x="948" y="1293" width="20" height="9"/><text x="958" y="1299.6">编辑</text></g>
<g id="n-xd" class="n"><rect x="948" y="1314" width="20" height="9"/><text x="958" y="1320.6">下单</text></g>
<g id="n-xp" class="n"><rect x="908" y="1357" width="19" height="9"/><text x="917.5" y="1363.6">新品</text></g>
<g id="n-xssf" class="n"><rect x="943" y="1336" width="29" height="9"/><text x="957.5" y="1342.6">限时首发</text></g>
<g id="n-tjgz" class="n"><rect x="943" y="1357" width="29" height="9"/><text x="957.5" y="1363.6">推荐关注</text></g>
<g id="n-bqxp" class="n"><rect x="943" y="1378" width="29" height="9"/><text x="957.5" y="1384.6">本期新品</text></g>
<g id="n-fls" class="n"><rect x="908" y="1458" width="22" height="9"/><text x="919" y="1464.6">福利社</text></g>
<g id="n-lqzx" class="n"><rect x="947" y="1421" width="30" height="9"/><text x="962" y="1427.6">领券中心</text></g>
<g id="n-jxyhq" class="n"><rect x="993" y="1399" width="34" height="9"/><text x="1010" y="1405.6">精选优惠券</text></g>
<g id="n-jrklq" class="n"><rect x="993" y="1421" width="34" height="9"/><text x="1010" y="1427.6">今日可领券</text></g>
<g id="n-rwlq" class="n"><rect x="993" y="1442" width="29" height="9"/><text x="1007.5" y="1448.6">任务领券</text></g>
<g id="n-jrdh" class="n"><rect x="947" y="1463" width="30" height="9"/><text x="962" y="1469.6">今日兑换</text></g>
<g id="n-flhy" class="n"><rect x="947" y="1495" width="30" height="9"/><text x="962" y="1501.6">福利会员</text></g>
<g id="n-lftg" class="n"><rect x="993" y="1484" width="29" height="9"/><text x="1007.5" y="1490.6">量贩团购</text></g>
<g id="n-cjhy" class="n"><rect x="993" y="1505" width="29" height="9"/><text x="1007.5" y="1511.6">超级会员</text></g>
<g id="n-wd4" class="n"><rect x="908" y="1558" width="19" height="9"/><text x="917.5" y="1564.6">我的</text></g>
<g id="n-hb4" class="n"><rect x="943" y="1527" width="19" height="9"/><text x="952.5" y="1533.6">红包</text></g>
<g id="n-lpk2" class="n"><rect x="943" y="1548" width="24" height="9"/><text x="955" y="1554.6">礼品卡</text></g>
<g id="n-jf2" class="n"><rect x="943" y="1569" width="19" height="9"/><text x="952.5" y="1575.6">积分</text></g>
<g id="n-qd" class="n"><rect x="943" y="1590" width="19" height="9"/><text x="952.5" y="1596.6">签到</text></g>
</g>
<g id="toggles">
<use href="#mc" x="379" y="131"/><use href="#mc" x="335" y="62"/><use href="#mc" x="242" y="133"/><use href="#mc" x="347" y="207"/>
<use href="#mc" x="193" y="398"/><use href="#mc" x="183" y="318"/><use href="#mc" x="153" y="399"/><use href="#mc" x="118" y="362"/><use href="#mc" x="118" y="437"/><use href="#mc" x="181" y="499"/>
<use href="#mc" x="380" y="724"/><use href="#mc" x="332" y="634"/><use href="#mc" x="332" y="719"/><use href="#mc" x="332" y="804"/><use href="#mc" x="332" y="878"/>
<use href="#mc" x="199" y="1205"/><use href="#mc" x="153" y="876"/><use href="#mc" x="153" y="1003"/><use href="#mc" x="117" y="961"/><use href="#mc" x="153" y="1099"/><use href="#mc" x="153" y="1184"/><use href="#mc" x="153" y="1269"/><use href="#mc" x="153" y="1386"/><use href="#mc" x="117" y="1332"/><use href="#mc" x="117" y="1375"/><use href="#mc" x="117" y="1439"/><use href="#mc" x="153" y="1533"/>
<use href="#mc" x="565" y="728"/><use href="#mc" x="726" y="188"/><use href="#mc" x="770" y="52"/><use href="#mc" x="815" y="26"/><use href="#mc" x="815" y="79"/><use href="#mc" x="770" y="171"/><use href="#mc" x="815" y="122"/><use href="#mc" x="815" y="219"/><use href="#mc" x="862" y="169"/><use href="#mc" x="915" y="143"/><use href="#mc" x="915" y="197"/><use href="#mc" x="862" y="228"/><use href="#mc" x="862" y="271"/><use href="#mc" x="770" y="323"/><use href="#mc" x="822" y="313"/><use href="#mc" x="822" y="334"/>
<use href="#mc" x="891" y="442"/><use href="#mc" x="937" y="355"/><use href="#mc" x="937" y="397"/><use href="#mc" x="937" y="460"/><use href="#mc" x="982" y="439"/><use href="#mc" x="982" y="481"/><use href="#mc" x="937" y="530"/><use href="#mc" x="982" y="546"/>
<use href="#mc" x="745" y="786"/><use href="#mc" x="789" y="675"/><use href="#mc" x="789" y="770"/><use href="#mc" x="789" y="812"/><use href="#mc" x="789" y="855"/><use href="#mc" x="789" y="898"/>
<use href="#mc" x="860" y="1282"/><use href="#mc" x="905" y="1000"/><use href="#mc" x="905" y="1053"/><use href="#mc" x="905" y="1127"/><use href="#mc" x="905" y="1255"/><use href="#mc" x="905" y="1361"/><use href="#mc" x="905" y="1462"/><use href="#mc" x="944" y="1425"/><use href="#mc" x="944" y="1499"/><use href="#mc" x="905" y="1562"/>
</g>
</svg>
